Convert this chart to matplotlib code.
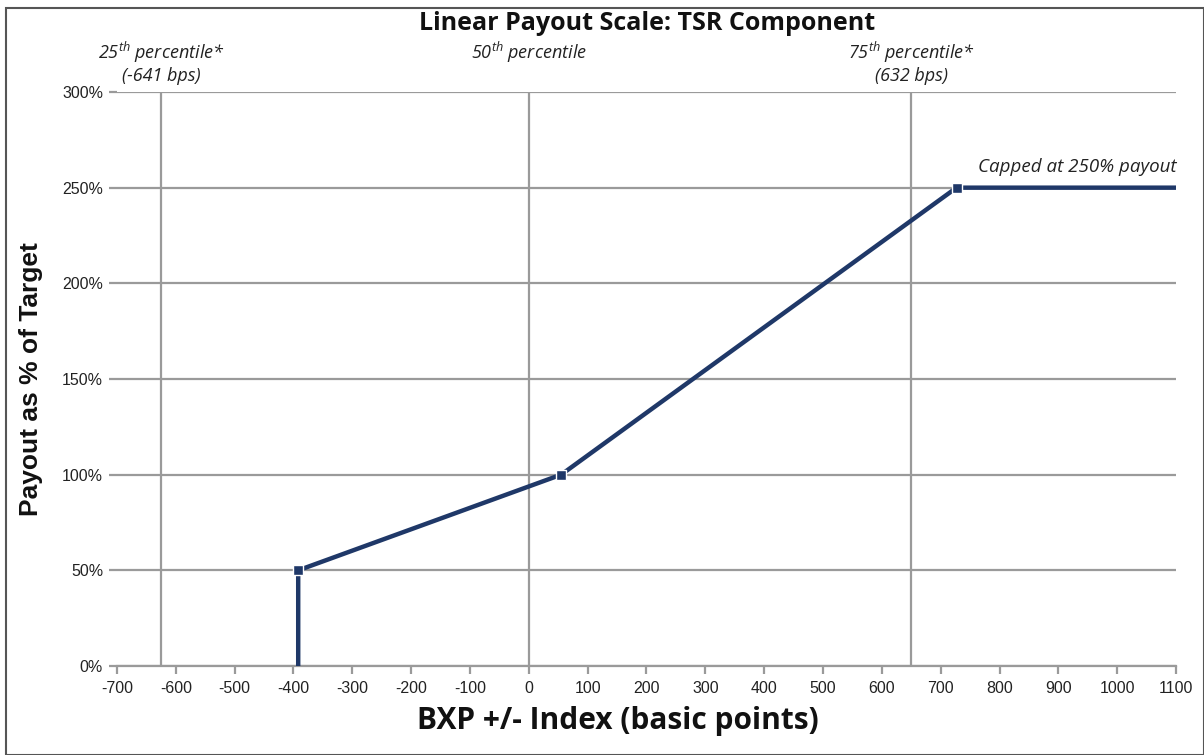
import matplotlib.pyplot as plt
from matplotlib.patches import Rectangle
from matplotlib.ticker import FuncFormatter

plt.rcParams['mathtext.fontset'] = 'custom'
plt.rcParams['mathtext.it'] = 'Open Sans:italic'
plt.rcParams['mathtext.rm'] = 'Open Sans:italic'
plt.rcParams['axes.unicode_minus'] = False

## data
bps = [-392, -392, 55, 727, 1100]
payout = [0, 50, 100, 250, 250]
marker_bps = [-392, 55, 727]
marker_payout = [50, 100, 250]
percentile_bps = [-625, 0, 650]
percentile_labels = ["25$^{th}$ percentile*\n(-641 bps)", "50$^{th}$ percentile", "75$^{th}$ percentile*\n(632 bps)"]
x_ticks = list(range(-700, 1101, 100))
y_ticks = [0, 50, 100, 150, 200, 250, 300]

navy = '#1f3868'
grid_c = '#9a9a9a'

fig = plt.figure(figsize=(12.04, 7.55), dpi=100)
ax = fig.add_axes([117/1204, 1-666/755, (1176-117)/1204, (666-92)/755])

for y in y_ticks:
    ax.axhline(y, color=grid_c, lw=1.6, zorder=1)
for x in percentile_bps:
    ax.axvline(x, color=grid_c, lw=1.6, zorder=1)

ax.plot(bps, payout, color=navy, lw=3.2, solid_capstyle='butt', zorder=3)
ax.plot(marker_bps, marker_payout, ls='none', marker='s', ms=7, mfc=navy,
        mec='white', mew=1, zorder=4)

ax.set_xlim(-700, 1100)
ax.set_ylim(0, 300)
ax.set_xticks(x_ticks)
ax.set_yticks(y_ticks)
ax.yaxis.set_major_formatter(FuncFormatter(lambda v, p: f"{int(v)}%"))
for s in ['top', 'right', 'left']:
    ax.spines[s].set_visible(False)
ax.spines['bottom'].set_color(grid_c)
ax.spines['bottom'].set_linewidth(1.6)
ax.tick_params(axis='x', colors=grid_c, length=6, width=1.6, labelcolor='#222222',
               labelsize=11.5, pad=5)
ax.tick_params(axis='y', colors=grid_c, length=6, width=1.6, labelcolor='#222222',
               labelsize=11.5, pad=4)
for lab in ax.get_xticklabels() + ax.get_yticklabels():
    lab.set_fontfamily('Liberation Sans')

# percentile notes above the plot
for x, lab in zip(percentile_bps, percentile_labels):
    xf = ax.transData.transform((x, 0))[0] / fig.bbox.width
    fig.text(xf, 1-40/755, lab, ha='center', va='top', fontsize=13, style='italic',
             family='Open Sans', color='#222222', linespacing=1.1)

ax.text(1100, 256, "Capped at 250% payout", ha='right', va='bottom', fontsize=13.5,
        style='italic', family='Open Sans', color='#222222')

fig.text(647/1204, 1-23/755, "Linear Payout Scale: TSR Component", ha='center', va='center',
         fontsize=18, fontweight='bold', family='Open Sans', color='#111111')
fig.text(618/1204, 1-721/755, "BXP +/- Index (basic points)", ha='center', va='center',
         fontsize=21.5, fontweight='bold', family='Open Sans', color='#111111')
ax.set_ylabel("Payout as % of Target", fontsize=19, fontweight='bold',
              family='Liberation Sans', color='#111111', labelpad=14)

fig.patches.append(Rectangle((6/1204, 0), 1-6/1204, 1-7.5/755, transform=fig.transFigure,
                             fill=False, ec='#555555', lw=1.5))

fig.savefig('out.png', dpi=100)
